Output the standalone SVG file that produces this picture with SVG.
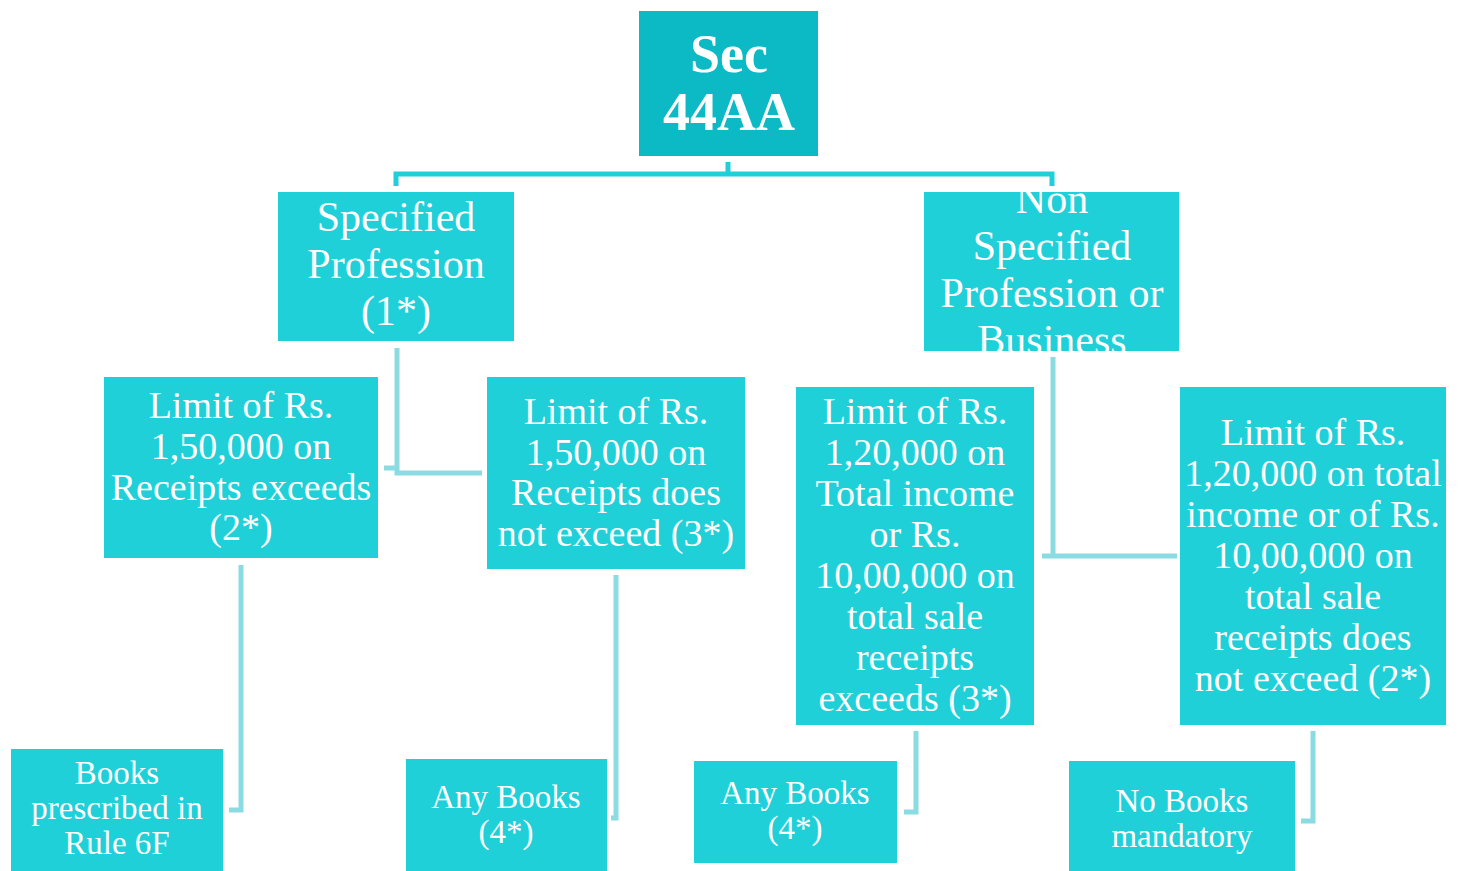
<svg xmlns="http://www.w3.org/2000/svg" width="1458" height="871" viewBox="0 0 1458 871">
<defs>
<style>
.box{fill:#20D0D9}
.root{fill:#0BBAC4}
.t{font-family:"Liberation Serif","DejaVu Serif",serif;fill:#fff;text-anchor:middle}
.l1{font-size:42px}
.l2{font-size:38px}
.l3{font-size:33px}
.top{fill:none;stroke:#20D0D9;stroke-width:5}
.pale{fill:none;stroke:#8BDCE2;stroke-width:5}
</style>
<clipPath id="clipNS"><rect x="924" y="192" width="255" height="159"/></clipPath>
</defs>
<rect width="1458" height="871" fill="#fff"/>
<g id="connectors">
<path class="top" d="M728,162 V174 M396,186 V174 H1052 V186"/>
<path class="pale" d="M397,348 V473 H482 M384,468 H397"/>
<path class="pale" d="M1053,357 V556 M1042,556 H1177"/>
<path class="pale" d="M241,565 V810 H229"/>
<path class="pale" d="M616,575 V818 H611"/>
<path class="pale" d="M916,731 V812 H904"/>
<path class="pale" d="M1313,731 V821 H1301"/>
</g>
<g id="root">
<rect class="root" x="639" y="11" width="179" height="145"/>
<text class="t" x="729" y="72" font-size="54" font-weight="bold">Sec</text>
<text class="t" x="729" y="130" font-size="54" font-weight="bold">44AA</text>
</g>
<g id="specified">
<rect class="box" x="278" y="192" width="236" height="149"/>
<text class="t l1" x="396" y="231">Specified</text>
<text class="t l1" x="396" y="278">Profession</text>
<text class="t l1" x="396" y="325">(1*)</text>
</g>
<g id="nonspecified">
<rect class="box" x="924" y="192" width="255" height="159"/>
<g clip-path="url(#clipNS)">
<text class="t l1" x="1052" y="213">Non</text>
<text class="t l1" x="1052" y="260">Specified</text>
<text class="t l1" x="1052" y="307">Profession or</text>
<text class="t l1" x="1052" y="354">Business</text>
</g>
</g>
<g id="sp-exceeds">
<rect class="box" x="104" y="377" width="274" height="181"/>
<text class="t l2" x="241" y="418">Limit of Rs.</text>
<text class="t l2" x="241" y="459">1,50,000 on</text>
<text class="t l2" x="241" y="500">Receipts exceeds</text>
<text class="t l2" x="241" y="540">(2*)</text>
</g>
<g id="sp-notexceed">
<rect class="box" x="487" y="377" width="258" height="192"/>
<text class="t l2" x="616" y="424">Limit of Rs.</text>
<text class="t l2" x="616" y="465">1,50,000 on</text>
<text class="t l2" x="616" y="505">Receipts does</text>
<text class="t l2" x="616" y="546">not exceed (3*)</text>
</g>
<g id="ns-exceeds">
<rect class="box" x="796" y="387" width="238" height="338"/>
<text class="t l2" x="915" y="424">Limit of Rs.</text>
<text class="t l2" x="915" y="465">1,20,000 on</text>
<text class="t l2" x="915" y="506">Total income</text>
<text class="t l2" x="915" y="547">or Rs.</text>
<text class="t l2" x="915" y="588">10,00,000 on</text>
<text class="t l2" x="915" y="629">total sale</text>
<text class="t l2" x="915" y="670">receipts</text>
<text class="t l2" x="915" y="711">exceeds (3*)</text>
</g>
<g id="ns-notexceed">
<rect class="box" x="1180" y="387" width="266" height="338"/>
<text class="t l2" x="1313" y="445">Limit of Rs.</text>
<text class="t l2" x="1313" y="486">1,20,000 on total</text>
<text class="t l2" x="1313" y="527">income or of Rs.</text>
<text class="t l2" x="1313" y="568">10,00,000 on</text>
<text class="t l2" x="1313" y="609">total sale</text>
<text class="t l2" x="1313" y="650">receipts does</text>
<text class="t l2" x="1313" y="691">not exceed (2*)</text>
</g>
<g id="books-6f">
<rect class="box" x="11" y="749" width="212" height="122"/>
<text class="t l3" x="117" y="784">Books</text>
<text class="t l3" x="117" y="819">prescribed in</text>
<text class="t l3" x="117" y="854">Rule 6F</text>
</g>
<g id="anybooks-1">
<rect class="box" x="406" y="759" width="201" height="112"/>
<text class="t l3" x="506" y="808">Any Books</text>
<text class="t l3" x="506" y="843">(4*)</text>
</g>
<g id="anybooks-2">
<rect class="box" x="694" y="761" width="203" height="102"/>
<text class="t l3" x="795" y="804">Any Books</text>
<text class="t l3" x="795" y="839">(4*)</text>
</g>
<g id="nobooks">
<rect class="box" x="1069" y="761" width="226" height="110"/>
<text class="t l3" x="1182" y="812">No Books</text>
<text class="t l3" x="1182" y="847">mandatory</text>
</g>
</svg>
